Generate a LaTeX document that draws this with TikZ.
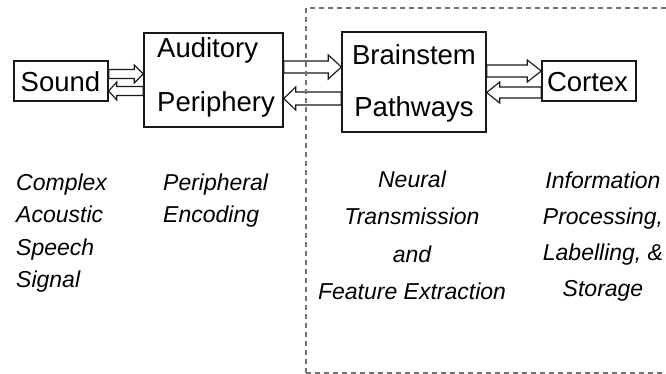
\documentclass[tikz,border=0pt]{standalone}
\usepackage{fontspec}
\setmainfont{Liberation Sans}
\usetikzlibrary{calc}

% Hollow block arrow: #1 tail point, #2 tip point, #3 shaft half-width,
% #4 head half-width, #5 head length
\newcommand\fatarrow[5]{%
  \path (#1) coordinate (fa-s) (#2) coordinate (fa-t)
        ($(fa-t)!#5!(fa-s)$) coordinate (fa-h);
  \draw[fatline]
    ($(fa-s)!#3!90:(fa-t)$) -- ($(fa-h)!#3!-90:(fa-s)$) --
    ($(fa-h)!#4!-90:(fa-s)$) -- (fa-t) --
    ($(fa-h)!#4!90:(fa-s)$) -- ($(fa-h)!#3!90:(fa-s)$) --
    ($(fa-s)!#3!-90:(fa-t)$) -- cycle;
}

\tikzset{
  box/.style={draw=black!90, line width=1.4pt, fill=white, inner sep=0pt},
  boxtext/.style={inner sep=0pt, font=\fontsize{27.5}{33}\selectfont, text=black},
  fatline/.style={draw=black!90, line width=1.15pt, fill=white, line join=miter},
  caption/.style={inner sep=0pt, font=\fontsize{23}{#1}\selectfont\itshape, text=black},
  region/.style={draw=black!55, line width=1.3pt, dash pattern=on 5pt off 4pt},
}

\begin{document}
\begin{tikzpicture}[x=1pt, y=-1pt]
  \useasboundingbox (0,0) rectangle (666,374);
  \clip (0,0) rectangle (666,374);

  % stage boxes
  \node[box, minimum width=94pt,  minimum height=40pt]  (snd) at (61,81)    {};
  \node[box, minimum width=139pt, minimum height=94pt]  (ap)  at (213.5,80) {};
  \node[box, minimum width=144pt, minimum height=100pt] (bp)  at (414,82)   {};
  \node[box, minimum width=94pt,  minimum height=40pt]  (cx)  at (589,81)   {};

  % box labels
  \node[boxtext, anchor=base] (sndt) at (60.5,92) {Sound};
  \node[boxtext, anchor=base west] (apt1) at (157,58)  {Auditory};
  \node[boxtext, anchor=base west] (apt2) at (157,112) {Periphery};
  \node[boxtext, anchor=base] (bpt1) at (414,65)  {Brainstem};
  \node[boxtext, anchor=base] (bpt2) at (414,117) {Pathways};
  \node[boxtext, anchor=base] (cxt) at (587.5,92) {Cortex};

  % forward and backward block arrows between the stages
  \fatarrow{$(snd.east)+(0,-7)$}{$(ap.west)+(0,-6)$}{4.5pt}{9pt}{9pt}
  \fatarrow{$(ap.west)+(0,11)$}{$(snd.east)+(0,10)$}{4.5pt}{9pt}{8pt}
  \fatarrow{$(ap.east)+(0,-13)$}{$(bp.west)+(0,-15)$}{6pt}{12pt}{13pt}
  \fatarrow{$(bp.west)+(0,16.5)$}{$(ap.east)+(0,18.5)$}{6.5pt}{11.5pt}{12pt}
  \fatarrow{$(bp.east)+(0,-11)$}{$(cx.west)+(0,-10)$}{6pt}{11pt}{14pt}
  \fatarrow{$(cx.west)+(0,11.5)$}{$(bp.east)+(0,10.5)$}{5.5pt}{10.5pt}{13pt}

  % stage descriptions
  \node[caption=32.5pt, anchor=north west, align=left] (c1) at (16,173.5)
    {Complex\\Acoustic\\Speech\\Signal};
  \node[caption=32.5pt, anchor=north west, align=left] (c2) at (163,173.5)
    {Peripheral\\Encoding};
  \node[caption=37.5pt, anchor=north, align=center] (c3) at (412,170.5)
    {Neural\\Transmission\\and\\Feature Extraction};
  \node[caption=36pt, anchor=north, align=center] (c4) at (603,171.5)
    {Information\\Processing,\\Labelling, \&\\Storage};

  % central processing region
  \draw[region] (306,373) -- (306,8) -- (680,8);
  \draw[region] (306,373) -- (680,373);
\end{tikzpicture}
\end{document}
